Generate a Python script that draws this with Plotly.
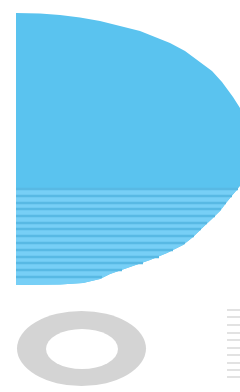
import plotly.graph_objects as go

# Outline of the blue half-disc (x, y in chart units)
half_x = [16, 40, 60, 80, 100, 120, 140, 150, 170, 185, 200, 212, 222, 233, 240, 246, 250, 251,
          250, 246, 240, 233, 226, 220, 212, 203, 193, 183, 167, 150, 130, 110, 100, 83, 60, 16]
half_y = [13, 13.5, 15, 17.5, 21, 26, 31, 35, 43, 51, 62, 71, 82, 97, 108, 120, 135, 148,
          165, 178, 186, 194, 203, 211, 219, 227, 237, 245, 253, 260, 267, 274, 279, 283, 284.5, 285]

# Lower striped band of the half-disc
band_x = [16, 238, 233, 226, 220, 212, 203, 193, 183, 167, 150, 130, 110, 100, 83, 60, 16]
band_y = [189, 189, 194, 203, 211, 219, 227, 237, 245, 253, 260, 267, 274, 279, 283, 284.5, 285]

# Stripe lines inside the band: level and length
stripe_y = [189, 196, 203, 209, 216, 223, 229, 236, 243, 250, 257, 263, 270, 277]
stripe_len = [222, 216, 210, 205, 199, 191, 185, 178, 169, 157, 143, 127, 106, 86]
stripe_start = 16

# Grey ring: outer and inner ellipse bounds
ring_outer = [17, 146, 311, 386]
ring_inner = [46, 118, 329, 369]

# Faint grey dashes at the right
dash_y = [310, 317, 325, 333, 340, 348, 355, 363, 370, 377]
dash_len = [13, 13, 13, 13, 13, 13, 13, 13, 13, 13]
dash_start = 227


def segments(levels, lengths, start):
    xs, ys = [], []
    for lv, ln in zip(levels, lengths):
        xs += [start, start + ln, None]
        ys += [lv, lv, None]
    return xs, ys


fig = go.Figure()
fig.add_trace(go.Scatter(x=half_x, y=half_y, mode="lines", fill="toself",
                         fillcolor="#5AC3EF", line=dict(width=0, color="#5AC3EF"),
                         hoverinfo="skip"))
fig.add_trace(go.Scatter(x=band_x, y=band_y, mode="lines", fill="toself",
                         fillcolor="#77CFF6", line=dict(width=0, color="#77CFF6"),
                         hoverinfo="skip"))
sx, sy = segments(stripe_y, stripe_len, stripe_start)
fig.add_trace(go.Scatter(x=sx, y=sy, mode="lines",
                         line=dict(width=2.3, color="#58B9E4"), hoverinfo="skip"))
dx, dy = segments(dash_y, dash_len, dash_start)
fig.add_trace(go.Scatter(x=dx, y=dy, mode="lines",
                         line=dict(width=2, color="#E2E2E2"), hoverinfo="skip"))

fig.add_shape(type="circle", xref="x", yref="y",
              x0=ring_outer[0], x1=ring_outer[1], y0=ring_outer[2], y1=ring_outer[3],
              fillcolor="#D4D4D4", line=dict(width=0), layer="above")
fig.add_shape(type="circle", xref="x", yref="y",
              x0=ring_inner[0], x1=ring_inner[1], y0=ring_inner[2], y1=ring_inner[3],
              fillcolor="#FFFFFF", line=dict(width=0), layer="above")

fig.update_layout(width=240, height=392, margin=dict(l=0, r=0, t=0, b=0),
                  paper_bgcolor="white", plot_bgcolor="white", showlegend=False,
                  xaxis=dict(range=[0, 240], visible=False, fixedrange=True),
                  yaxis=dict(range=[392, 0], visible=False, fixedrange=True))

fig.write_html("out.html", config={"displayModeBar": False},
               post_script="document.body.style.margin='0';document.body.style.padding='0';")
